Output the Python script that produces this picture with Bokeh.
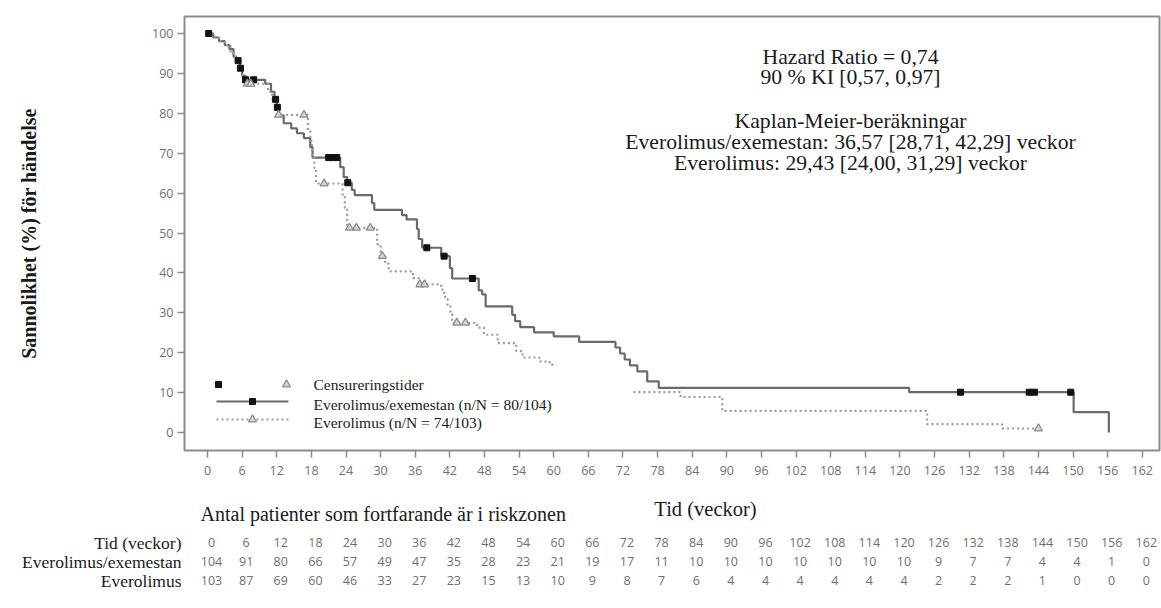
import numpy as np
from bokeh.plotting import figure
from bokeh.layouts import column
from bokeh.models import Range1d, FixedTicker, Label, ColumnDataSource
from bokeh.core.properties import value
from bokeh.embed import file_html
from bokeh.resources import INLINE

# ---- Kaplan-Meier data (weeks, % without event) ----
combo_t = [0, 1.0, 2.0, 3.0, 3.8, 4.5, 5.0, 5.6, 6.0, 6.6, 10.0, 11.0, 11.6, 12.0, 12.4,
           13.2, 14.5, 15.5, 16.7, 17.8, 18.2, 23.0, 23.6, 24.2, 25.0, 25.5, 28.5, 28.9,
           33.7, 34.5, 36.3, 36.6, 37.2, 40.5, 42.0, 42.4, 47.0, 47.6, 48.2, 52.8, 53.3,
           54.2, 56.6, 60.0, 64.4, 70.7, 71.5, 72.3, 73.2, 74.5, 76.2, 78.2, 121.6, 150.1,
           156.2]
combo_s = [100, 99.0, 98.1, 97.1, 96.1, 94.2, 93.2, 91.3, 89.4, 88.4, 87.4, 85.4, 83.5, 81.5,
           79.5, 77.5, 76.2, 75.0, 73.8, 71.5, 68.9, 66.5, 64.0, 62.6, 60.8, 59.5, 57.5, 55.8,
           54.5, 53.4, 51.0, 48.5, 46.3, 44.2, 41.2, 38.6, 35.6, 34.6, 31.6, 29.5, 27.9,
           26.4, 25.1, 24.1, 22.7, 21.3, 19.8, 18.3, 16.8, 15.3, 12.8, 11.2, 10.1, 5.1,
           0.0]
combo_censored = [0.2, 5.3, 5.7, 6.6, 8.0, 11.8, 12.1, 21.0, 21.7, 22.4, 24.3, 38.0, 41.0,
                  45.9, 130.5, 142.4, 143.3, 149.6]

evero_t_a = [0, 1.0, 2.0, 3.0, 4.0, 4.8, 5.5, 6.0, 6.5, 10.5, 11.2, 11.8, 12.2, 17.4, 17.8,
             18.1, 18.5, 18.8, 23.4, 23.8, 24.2, 29.4, 30.0, 30.8, 31.4, 35.6, 36.6, 40.5,
             41.0, 41.6, 42.1, 42.4, 46.7, 47.9, 50.3, 53.5, 54.6, 57.5, 59.3, 60.5]
evero_s_a = [100, 99.0, 98.1, 97.1, 95.1, 93.2, 91.3, 89.3, 87.4, 85.4, 83.5, 81.6, 79.6,
             75.6, 73.1, 69.4, 66.3, 62.4, 59.3, 56.3, 51.3, 47.2, 44.2, 42.3, 40.4, 38.7,
             37.1, 35.8, 34.0, 31.9, 29.7, 27.5, 26.3, 24.5, 22.4, 20.4, 18.8, 17.8, 17.0,
             17.0]
evero_t_b = [73.8, 82.0, 89.2, 124.7, 137.7, 144.0]
evero_s_b = [10.1, 8.9, 5.4, 2.1, 1.0, 1.0]
evero_censored = [6.9, 7.5, 12.3, 16.7, 20.2, 24.6, 25.8, 28.2, 30.3, 36.8, 37.6, 43.2,
                  44.7, 144.0]

# ---- numbers at risk ----
risk_weeks = list(range(0, 163, 6))
risk_combo = [104, 91, 80, 66, 57, 49, 47, 35, 28, 23, 21, 19, 17, 11, 10, 10, 10, 10, 10,
              10, 10, 9, 7, 7, 4, 4, 1, 0]
risk_evero = [103, 87, 69, 60, 46, 33, 27, 23, 15, 13, 10, 9, 8, 7, 6, 4, 4, 4, 4, 4, 4,
              2, 2, 2, 1, 0, 0, 0]
risk_rows = ["Tid (veckor)", "Everolimus/exemestan", "Everolimus"]

y_ticks = list(range(0, 101, 10))


def km_value(times, surv, at):
    """Value of a right-continuous step curve at the given times."""
    idx = np.searchsorted(np.asarray(times), np.asarray(at), side="right") - 1
    return list(np.asarray(surv)[idx])


evero_all_t = evero_t_a + evero_t_b
evero_all_s = evero_s_a + evero_s_b

# ---- geometry ----
W = 1161
H_MAIN, H_RISK = 492, 116
LEFT, RIGHT, TOP = 184, 2, 16
FRAME_BOTTOM = 450
FW, FH = W - LEFT - RIGHT, FRAME_BOTTOM - TOP
X0, X1 = -3.99, 164.98
Y0, Y1 = -4.51, 104.26


def fx(px):
    return X0 + (px - LEFT) / FW * (X1 - X0)


def fy(py):
    return Y1 - (py - TOP) / FH * (Y1 - Y0)


serif = "Liberation Serif"
tick_font = "Open Sans"
x_range = Range1d(X0, X1)

p = figure(width=W, height=H_MAIN, output_backend="svg", toolbar_location=None,
           x_range=x_range, y_range=Range1d(Y0, Y1),
           min_border_left=LEFT, min_border_right=RIGHT,
           min_border_top=TOP, min_border_bottom=H_MAIN - FRAME_BOTTOM)
p.background_fill_color = "white"
p.border_fill_color = "white"
p.outline_line_color = "#8c8c8c"
p.outline_line_width = 2
p.grid.visible = False

for ax in (p.xaxis[0], p.yaxis[0]):
    ax.axis_line_color = None
    ax.major_tick_line_color = "#8a8a8a"
    ax.major_tick_line_width = 1.5
    ax.major_tick_in = 0
    ax.major_tick_out = 7
    ax.minor_tick_out = 0
    ax.minor_tick_in = 0
    ax.major_label_text_font = tick_font
    ax.major_label_text_font_size = "12.5px"
    ax.major_label_text_color = "#707070"
p.xaxis.ticker = FixedTicker(ticks=risk_weeks)
p.yaxis.ticker = FixedTicker(ticks=y_ticks)
p.xaxis.major_label_standoff = 8
p.yaxis.major_label_standoff = 4
p.yaxis.axis_label = "Sannolikhet (%) för händelse"
p.yaxis.axis_label_text_font = serif
p.yaxis.axis_label_text_font_style = "bold"
p.yaxis.axis_label_text_font_size = "20px"
p.yaxis.axis_label_text_color = "#1a1a1a"
p.yaxis.axis_label_standoff = 109

# ---- curves ----
p.step(combo_t, combo_s, mode="after", line_color="#6a6a6a", line_width=2.2)
p.step(evero_t_a, evero_s_a, mode="after", line_color="#9a9a9a", line_width=2.2,
       line_dash="2 3")
p.step(evero_t_b, evero_s_b, mode="after", line_color="#9a9a9a", line_width=2.2,
       line_dash="2 3")

p.scatter(combo_censored, km_value(combo_t, combo_s, combo_censored), marker="square",
          size=6, color="#111111")
p.scatter(evero_censored, km_value(evero_all_t, evero_all_s, evero_censored),
          marker="triangle", size=8, fill_color="#d4d4d4", line_color="#8a8a8a",
          line_width=1.2)

# ---- legend ----
p.scatter([fx(218)], [fy(384)], marker="square", size=6, color="#111111")
p.scatter([fx(286)], [fy(384)], marker="triangle", size=8, fill_color="#d4d4d4",
          line_color="#8a8a8a", line_width=1.2)
p.line([fx(216), fx(288)], [fy(401), fy(401)], line_color="#6a6a6a", line_width=2.2)
p.scatter([fx(252)], [fy(401)], marker="square", size=6, color="#111111")
p.line([fx(216), fx(288)], [fy(419), fy(419)], line_color="#9a9a9a", line_width=2.2,
       line_dash="2 3")
p.scatter([fx(252)], [fy(419)], marker="triangle", size=8, fill_color="#d4d4d4",
          line_color="#8a8a8a", line_width=1.2)


def add_text(txt, px, py, size, align="left", color="#1a1a1a"):
    p.add_layout(Label(x=fx(px), y=fy(py), text=txt, text_font=serif,
                       text_font_size=f"{size}px", text_align=align,
                       text_baseline="middle", text_color=color))


add_text("Censureringstider", 313, 384, 15.5)
add_text("Everolimus/exemestan (n/N = 80/104)", 313, 404, 15.5)
add_text("Everolimus (n/N = 74/103)", 313, 422, 15.5)

# ---- hazard ratio / median annotation ----
add_text("Hazard Ratio = 0,74", 850, 56, 21.7, align="center")
add_text("90 % KI [0,57, 0,97]", 850, 76, 21.7, align="center")
add_text("Kaplan-Meier-beräkningar", 850, 120, 21.7, align="center")
add_text("Everolimus/exemestan: 36,57 [28,71, 42,29] veckor", 850, 141, 21.7, align="center")
add_text("Everolimus: 29,43 [24,00, 31,29] veckor", 850, 162, 21.7, align="center")

# ---- numbers-at-risk table (y in page pixels, x shares the week scale) ----
row_y = [542, 561, 580]
q = figure(width=W, height=H_RISK, output_backend="svg", toolbar_location=None,
           x_range=x_range, y_range=Range1d(H_MAIN + H_RISK, H_MAIN),
           x_axis_location=None,
           min_border_left=LEFT, min_border_right=RIGHT,
           min_border_top=0, min_border_bottom=0)
q.outline_line_color = None
q.grid.visible = False
q.background_fill_color = "white"
q.border_fill_color = "white"
ya = q.yaxis[0]
ya.ticker = FixedTicker(ticks=row_y)
ya.major_label_overrides = {y: name for y, name in zip(row_y, risk_rows)}
ya.axis_line_color = None
ya.major_tick_line_color = None
ya.major_tick_out = 0
ya.major_tick_in = 0
ya.minor_tick_out = 0
ya.minor_tick_in = 0
ya.major_label_standoff = 3
ya.major_label_text_font = serif
ya.major_label_text_font_size = "17.5px"
ya.major_label_text_color = "#1a1a1a"

risk_src = ColumnDataSource(dict(
    x=risk_weeks,
    weeks=[str(v) for v in risk_weeks],
    combo=[str(v) for v in risk_combo],
    evero=[str(v) for v in risk_evero],
))
for col, py in zip(["weeks", "combo", "evero"], row_y):
    q.text(x="x", y=py, text=col, source=risk_src, x_offset=4,
           text_align="center", text_baseline="middle",
           text_font=value(tick_font), text_font_size="12.5px", text_color="#707070")

q.text(x=[fx(200)], y=[513], text=["Antal patienter som fortfarande är i riskzonen"],
       text_align="left", text_baseline="middle", text_font=value(serif),
       text_font_size="20px", text_color="#1a1a1a")
q.text(x=[fx(705)], y=[508], text=["Tid (veckor)"],
       text_align="center", text_baseline="middle", text_font=value(serif),
       text_font_size="20.5px", text_color="#1a1a1a")

layout = column(p, q, spacing=0)
open("out.html", "w").write(file_html(layout, INLINE))
